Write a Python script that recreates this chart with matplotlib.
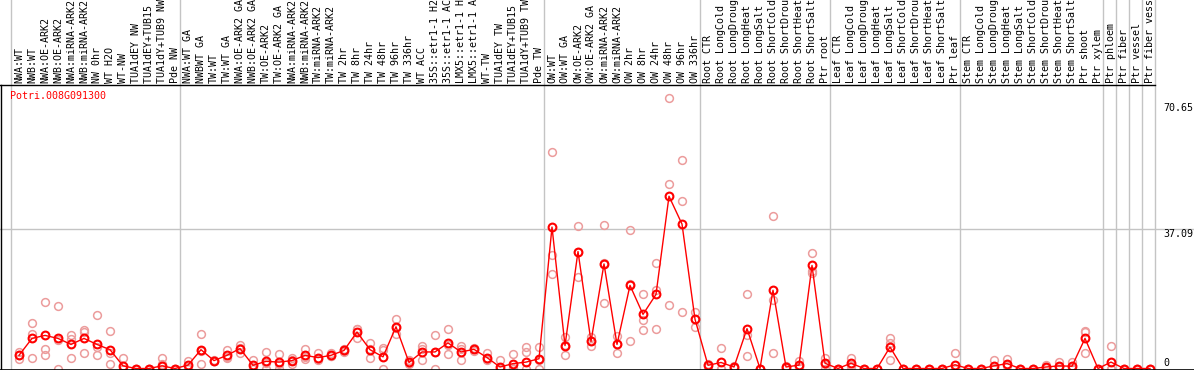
import matplotlib
matplotlib.use("Agg")
import matplotlib.pyplot as plt
import numpy as np

plt.rcParams['font.family'] = ['DejaVu Sans Mono']

gene = "Potri.008G091300"

labels = ["NWA:WT", "NWB:WT", "NWA:OE-ARK2", "NWB:OE-ARK2", "NWA:miRNA-ARK2", "NWB:miRNA-ARK2",
          "NW 0hr", "WT H2O", "WT-NW", "TUA1dEY NW", "TUA1dEY+TUB15 NW", "TUA1dY+TUB9 NW", "Pde NW",
          "NWA:WT GA", "NWBWT GA", "TW:WT", "TW:WT GA", "NWA:OE-ARK2 GA", "NWB:OE-ARK2 GA",
          "TW:OE-ARK2", "TW:OE-ARK2 GA", "NWA:miRNA-ARK2", "NWB:miRNA-ARK2", "TW:miRNA-ARK2",
          "TW:miRNA-ARK2", "TW 2hr", "TW 8hr", "TW 24hr", "TW 48hr", "TW 96hr", "TW 336hr",
          "WT ACC", "35S::etr1-1 H2O", "35S::etr1-1 ACC", "LMX5::etr1-1 H2O", "LMX5::etr1-1 ACC",
          "WT-TW", "TUA1dEY TW", "TUA1dEY+TUB15 TW", "TUA1dY+TUB9 TW", "Pde TW",
          "OW:WT", "OW:WT GA", "OW:OE-ARK2", "OW:OE-ARK2 GA", "OW:miRNA-ARK2", "OW:miRNA-ARK2",
          "OW 2hr", "OW 8hr", "OW 24hr", "OW 48hr", "OW 96hr", "OW 336hr",
          "Root CTR", "Root LongCold", "Root LongDrought", "Root LongHeat", "Root LongSalt",
          "Root ShortCold", "Root ShortDrought", "Root ShortHeat", "Root ShortSalt", "Ptr root",
          "Leaf CTR", "Leaf LongCold", "Leaf LongDrought", "Leaf LongHeat", "Leaf LongSalt",
          "Leaf ShortCold", "Leaf ShortDrought", "Leaf ShortHeat", "Leaf ShortSalt", "Ptr leaf",
          "Stem CTR", "Stem LongCold", "Stem LongDrought", "Stem LongHeat", "Stem LongSalt",
          "Stem ShortCold", "Stem ShortDrought", "Stem ShortHeat", "Stem ShortSalt", "Ptr shoot",
          "Ptr xylem", "Ptr phloem", "Ptr fiber", "Ptr vessel", "Ptr fiber vessel"]

means = [3.5, 8.0, 8.8, 8.0, 6.4, 8.0, 6.4, 5.0, 0.7, 0, 0, 0.7, 0,
         0.9, 5.0, 2.1, 3.5, 5.3, 0.85, 1.9, 1.7, 2.1, 3.5, 2.9, 3.5, 4.8, 9.7, 5.0, 3.1,
         11.1, 1.6, 4.4, 4.4, 6.8, 4.4, 5.1, 2.9, 0.4, 1.3, 1.7, 2.6,
         37.6, 6.1, 31.1, 7.2, 27.8, 6.4, 22.1, 14.4, 19.7, 45.8, 38.4, 13.1,
         0.85, 1.6, 0.4, 10.6, 0, 20.8, 0.4, 0.9, 27.4, 1.4,
         0, 1.4, 0, 0, 5.7, 0, 0, 0, 0, 1.0,
         0, 0, 0.7, 1.3, 0, 0, 0.4, 0.7, 0.6, 8.0, 0,
         1.7, 0, 0, 0]

rep_a = [4.4, 12.2, 17.8, 16.6, 8.9, 10.2, 14.1, 9.9, 2.9, 0, 0, 2.9, 0,
         2.1, 9.1, 2.3, 4.8, 6.2, 2.2, 4.3, 3.8, 2.9, 5.1, 4.0, 4.0, 5.3, 10.4, 6.8, 5.5,
         13.1, 2.2, 5.9, 8.9, 10.4, 5.9, 5.1, 4.0, 2.2, 3.8, 5.7, 5.6,
         57.6, 8.5, 37.9, 8.4, 38.1, 8.6, 36.7, 19.8, 28.0, 71.9, 55.4, 14.9,
         1.2, 5.4, 0.7, 19.7, 0, 40.5, 0.7, 2.0, 30.7, 2.8,
         0, 2.8, 0, 0, 8.0, 0, 0, 0, 0, 4.2,
         0, 0, 2.2, 2.5, 0, 0, 0.8, 1.7, 1.7, 9.8, 0,
         6.0, 0, 0, 0]

rep_b = [2.4, 9.3, 5.1, 0.0, 7.8, 9.7, 5.7, 4.2, 0, 0, 0, 1.1, 0,
         0.5, 1.3, 1.9, 3.0, 5.5, 0.3, 1.4, 1.3, 1.1, 2.4, 2.5, 3.3, 4.6, 8.1, 2.9, 5.0,
         9.3, 1.5, 2.2, 4.3, 3.8, 2.2, 4.7, 2.5, 0, 0, 4.4, 0,
         30.3, 3.6, 24.4, 6.0, 17.3, 4.2, 7.2, 13.0, 20.8, 49.0, 44.5, 11.1,
         0.5, 0, 0.3, 8.8, 0, 18.2, 0.3, 0.5, 25.4, 0,
         0, 0.9, 0, 0, 2.2, 0, 0, 0, 0, 0,
         0, 0, 0, 0.8, 0, 0, 0.3, 0.4, 0.1, 4.2, 0,
         0, 0, 0, 0]

rep_c = [3.7, 2.9, 3.5, 7.5, 2.9, 4.0, 3.5, 1.1, 0, 0, 0, 0, 0,
         0, 4.6, 2.1, 2.7, 4.2, 0, 0, 0, 2.3, 3.0, 2.2, 3.2, 4.5, 10.6, 5.3, 0,
         10.9, 1.1, 5.1, 0, 6.2, 5.1, 5.5, 2.2, 0, 0.1, 0, 2.3,
         25.0, 6.2, 31.0, 7.2, 28.0, 6.4, 22.4, 10.2, 10.5, 16.8, 15.0, 13.2,
         0.8, 0, 0.2, 3.2, 0, 4.0, 0.2, 0.3, 26.0, 1.3,
         0, 0.4, 0, 0, 6.9, 0, 0, 0, 0, 0,
         0, 0, 0, 0.6, 0, 0, 0.1, 0, 0, 10.0, 0,
         0, 0, 0, 0]

group_starts = [0, 13, 41, 53, 63, 73, 84, 85, 86, 87, 88]
y_ticks = [0, 37.09, 70.65]

# ---- layout (pixel-derived scales) ----
W, H = 1194, 370
fig = plt.figure(figsize=(W / 100, H / 100), dpi=100)
ax = fig.add_axes([0, 0, 1, 1])
x0_px, dx_px = 19.0, 13.0
zero_px, unit_px = 368.5, 3.761
header_px = 85.0
ax.set_xlim((0 - x0_px) / dx_px, (W - x0_px) / dx_px)
ax.set_ylim((zero_px - H) / unit_px, zero_px / unit_px)
ax.axis('off')

def px_x(p):
    return (p - x0_px) / dx_px

def px_y(p):
    return (zero_px - p) / unit_px

y_header = px_y(header_px)
y_top = px_y(0)
y_bot = px_y(H)
grey = '#c4c4c4'

# separators
for s in group_starts:
    ax.plot([s - 0.62, s - 0.62], [y_bot, y_top], color=grey, lw=1.0, zorder=1)
# horizontal reference line at middle tick
ax.plot([px_x(0), px_x(W)], [y_ticks[1], y_ticks[1]], color=grey, lw=1.0, zorder=1)

# frame lines
ax.plot([px_x(0), group_starts[-1] - 0.62], [y_header, y_header], color='black', lw=1.0, zorder=4)
ax.plot([px_x(1.5), px_x(1.5)], [y_bot, y_header], color='black', lw=1.0, zorder=4)
ax.plot([px_x(0), px_x(W)], [px_y(369.5), px_y(369.5)], color='black', lw=1.2, zorder=4)

x = np.arange(len(labels))

# replicates
for reps in (rep_a, rep_b, rep_c):
    ax.plot(x, reps, linestyle='none', marker='o', markersize=5.6, markerfacecolor='none',
            markeredgecolor='#ec9c9c', markeredgewidth=1.1, zorder=2)

# means
ax.plot(x, means, color='#ff0000', lw=1.0, marker='o', markersize=5.6, markerfacecolor='none',
        markeredgecolor='#ff0000', markeredgewidth=1.5, zorder=3)

# column labels (rotated, in header)
for i, lab in enumerate(labels):
    ax.text(i, px_y(83), lab, rotation=90, ha='center', va='bottom', fontsize=7.2,
            color='black', clip_on=True, zorder=5)

# gene title
ax.text(px_x(10), px_y(91), gene, ha='left', va='top', fontsize=7.2, color='#ff0000', zorder=5)

# value labels on the right
for v in y_ticks:
    yy = max(v, px_y(358))
    ax.text(px_x(1163), yy, f"{v:g}", ha='left', va='top', fontsize=7.2, color='black', zorder=5)

fig.savefig('out.png', dpi=100)
